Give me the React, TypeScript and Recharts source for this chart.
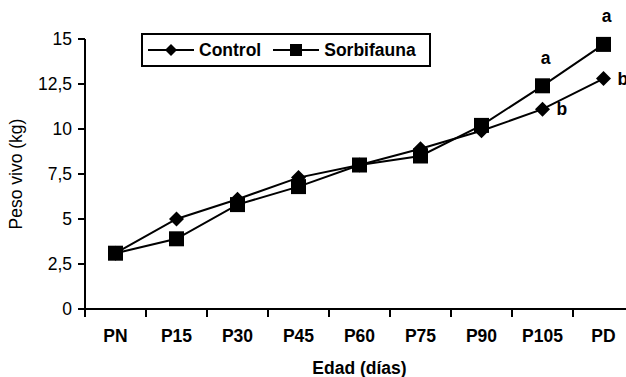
import { LineChart, Line, XAxis, YAxis, Legend, LabelList } from 'recharts'

const categories = ['PN', 'P15', 'P30', 'P45', 'P60', 'P75', 'P90', 'P105', 'PD']
const control = [3.1, 5.0, 6.1, 7.3, 8.0, 8.9, 9.9, 11.1, 12.8]
const sorbifauna = [3.1, 3.9, 5.8, 6.8, 8.0, 8.5, 10.2, 12.4, 14.7]
const controlLetters = ['', '', '', '', '', '', '', 'b', 'b']
const sorbifaunaLetters = ['', '', '', '', '', '', '', 'a', 'a']
const yTicks = [0, 2.5, 5, 7.5, 10, 12.5, 15]

const FONT = '"Liberation Sans", Arial, sans-serif'
const FS = 17.5

const data = categories.map((name, i) => ({
  name,
  pos: i + 0.5,
  control: control[i],
  sorbifauna: sorbifauna[i],
  cSig: controlLetters[i],
  sSig: sorbifaunaLetters[i],
}))

const boundaryTicks = [...categories.map((_, i) => i), categories.length]
const centerTicks = categories.map((_, i) => i + 0.5)

function Diamond({ cx, cy, r = 7.5 }: any) {
  return <polygon points={`${cx},${cy - r} ${cx + r},${cy} ${cx},${cy + r} ${cx - r},${cy}`} fill="#000" />
}

function Square({ cx, cy, s = 15 }: any) {
  return <rect x={cx - s / 2} y={cy - s / 2} width={s} height={s} fill="#000" />
}

function LegendBox({ payload }: any) {
  return (
    <div style={{
      boxSizing: 'border-box', width: 290, height: 34, border: '2px solid #000', background: '#fff',
      display: 'flex', alignItems: 'center', paddingLeft: 5,
      fontFamily: FONT, fontWeight: 'bold', fontSize: FS, color: '#000',
    }}>
      {(payload || []).map((p: any) => (
        <span key={p.value} style={{ display: 'flex', alignItems: 'center', marginRight: 12 }}>
          <svg width={46} height={14} style={{ marginRight: 5 }}>
            <line x1={0} y1={7} x2={46} y2={7} stroke="#000" strokeWidth={2} />
            {p.dataKey === 'control' ? <Diamond cx={23} cy={7} r={6} /> : <Square cx={23} cy={7} s={12} />}
          </svg>
          {p.value}
        </span>
      ))}
    </div>
  )
}

function SigAbove({ x, y, value }: any) {
  if (!value) return null
  return (
    <text x={x + 3} y={y - 22} textAnchor="middle" fontFamily={FONT} fontWeight="bold" fontSize={FS} fill="#000">
      {value}
    </text>
  )
}

function SigRight({ x, y, value }: any) {
  if (!value) return null
  return (
    <text x={x + 14} y={y + 6} textAnchor="start" fontFamily={FONT} fontWeight="bold" fontSize={FS} fill="#000">
      {value}
    </text>
  )
}

export default function App() {
  return (
    <div style={{ position: 'absolute', left: 0, top: 0, width: 626, height: 377, overflow: 'hidden', background: '#fff' }}>
      <LineChart width={650} height={377} data={data} margin={{ top: 39, right: 16, left: 0, bottom: 0 }}>
        <XAxis
          dataKey="pos"
          type="number"
          domain={[0, categories.length]}
          allowDataOverflow
          ticks={boundaryTicks}
          interval={0}
          tickFormatter={() => ''}
          height={8}
          axisLine={{ stroke: '#000', strokeWidth: 2 }}
          tickLine={{ stroke: '#000', strokeWidth: 2 }}
          tickSize={8}
        />
        <XAxis
          xAxisId="labels"
          dataKey="pos"
          type="number"
          domain={[0, categories.length]}
          allowDataOverflow
          ticks={centerTicks}
          interval={0}
          tickFormatter={(v: number) => categories[Math.floor(v)]}
          height={60}
          axisLine={false}
          tickLine={false}
          tickSize={0}
          tickMargin={13}
          tick={{ fill: '#000', fontFamily: FONT, fontWeight: 'bold', fontSize: FS }}
          label={({ viewBox }: any) => (
            <text
              x={viewBox.x + viewBox.width / 2}
              y={viewBox.y + viewBox.height - 3}
              textAnchor="middle"
              fontFamily={FONT}
              fontWeight="bold"
              fontSize={FS}
              fill="#000"
            >
              Edad (días)
            </text>
          )}
        />
        <YAxis
          type="number"
          domain={[0, 15]}
          ticks={yTicks}
          width={85}
          tickFormatter={(v: number) => String(v).replace('.', ',')}
          axisLine={{ stroke: '#000', strokeWidth: 2 }}
          tickLine={{ stroke: '#000', strokeWidth: 2 }}
          tickSize={7}
          tickMargin={6}
          tick={{ fill: '#000', fontFamily: FONT, fontSize: FS }}
          label={({ viewBox }: any) => {
            const cy = viewBox.y + viewBox.height / 2
            return (
              <text
                x={22}
                y={cy}
                transform={`rotate(-90, 22, ${cy})`}
                textAnchor="middle"
                fontFamily={FONT}
                fontSize={FS}
                fill="#000"
              >
                Peso vivo (kg)
              </text>
            )
          }}
        />
        <Legend
          layout="horizontal"
          verticalAlign="middle"
          align="center"
          content={<LegendBox />}
          wrapperStyle={{ position: 'absolute', top: 33, left: 141, width: 290, height: 34 }}
        />
        <Line
          dataKey="control"
          name="Control"
          stroke="#000"
          strokeWidth={2}
          isAnimationActive={false}
          dot={(p: any) => <Diamond key={`c${p.index}`} cx={p.cx} cy={p.cy} />}
          activeDot={false}
        >
          <LabelList dataKey="cSig" content={<SigRight />} />
        </Line>
        <Line
          dataKey="sorbifauna"
          name="Sorbifauna"
          stroke="#000"
          strokeWidth={2}
          isAnimationActive={false}
          dot={(p: any) => <Square key={`s${p.index}`} cx={p.cx} cy={p.cy} />}
          activeDot={false}
        >
          <LabelList dataKey="sSig" content={<SigAbove />} />
        </Line>
      </LineChart>
    </div>
  )
}
